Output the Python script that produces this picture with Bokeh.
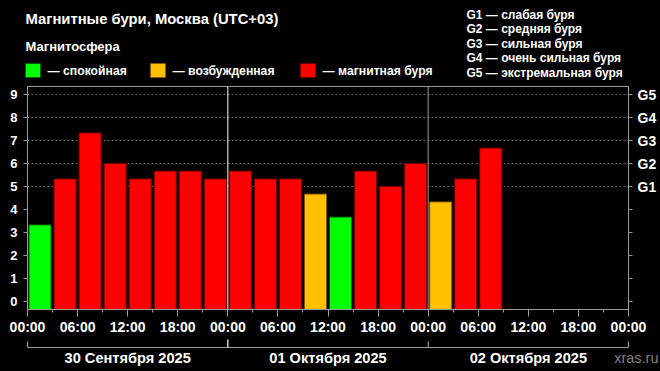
from bokeh.plotting import figure
from bokeh.layouts import column
from bokeh.models import Range1d, LinearAxis, FixedTicker, Span, ColumnDataSource
from bokeh.core.properties import value
from bokeh.embed import file_html
from bokeh.resources import INLINE

# ---- data ----
kp_values = [3.33, 5.33, 7.33, 6.0, 5.33, 5.67, 5.67, 5.33,
             5.67, 5.33, 5.33, 4.67, 3.67, 5.67, 5.0, 6.0,
             4.33, 5.33, 6.67]
step_hours = 3
day_labels = ["30 Сентября 2025", "01 Октября 2025", "02 Октября 2025"]
time_labels = ["00:00", "06:00", "12:00", "18:00"]
g_labels = ["G1", "G2", "G3", "G4", "G5"]
g_descr = ["слабая буря", "средняя буря", "сильная буря", "очень сильная буря", "экстремальная буря"]
legend_names = ["спокойная", "возбужденная", "магнитная буря"]
legend_colors = ["#00ff00", "#ffc000", "#ff0000"]
legend_edges = ["#006000", "#805800", "#700000"]
YMIN, YMAX = -0.35, 9.35
FONT = "Liberation Sans"
GRAY = "#9a9a9a"

W, H = 660, 371
HEAD_H = 85
MAIN_H = 252
FL, FR, FT, FB = 27, 628, 86, 310   # frame box in page pixels
ndays = len(day_labels)
HOURS = 24 * ndays

def level(v):
    return 0 if v < 4 else (1 if v < 5 else 2)

xs = [i * step_hours + step_hours / 2 for i in range(len(kp_values))]
lv = [level(v) for v in kp_values]
src = ColumnDataSource(dict(x=xs, top=kp_values,
                            color=[legend_colors[k] for k in lv],
                            edge=[legend_edges[k] for k in lv]))

def blank_fig(h, y0, y1):
    f = figure(width=W, height=h, output_backend="svg", toolbar_location=None,
               x_range=Range1d(0, W), y_range=Range1d(y1, y0),
               background_fill_color="black", border_fill_color="black",
               min_border=0, x_axis_location=None, y_axis_location=None,
               frame_align=False)
    f.outline_line_color = None
    f.grid.visible = False
    return f

def txt(f, x, y, t, size="12px", color="white", bold=True, align="left", **kw):
    f.text(x=x, y=y, text=t, text_font=value(FONT), text_font_size=size,
           text_color=color, text_font_style="bold" if bold else "normal",
           text_align=align, text_baseline="middle", **kw)

# ---- header ----
hd = blank_fig(HEAD_H, 0, HEAD_H)
txt(hd, [25], [18], ["Магнитные бури, Москва (UTC+03)"], "14.8px")
txt(hd, [25], [46], ["Магнитосфера"], "13px")
leg_x = [25, 150, 300]
hd.quad(left=leg_x, right=[x + 15 for x in leg_x], top=[63] * 3, bottom=[77] * 3,
        fill_color=legend_colors, line_color=legend_edges)
txt(hd, [x + 22 for x in leg_x], [70] * 3, ["— " + n for n in legend_names], "12.2px")
txt(hd, [466] * 5, [14 + i * 14.5 for i in range(5)],
    [g + " — " + d for g, d in zip(g_labels, g_descr)], "12px")

# ---- main chart ----
p = figure(width=W, height=MAIN_H, output_backend="svg", toolbar_location=None,
           x_range=Range1d(0, HOURS), y_range=Range1d(YMIN, YMAX),
           background_fill_color="black", border_fill_color="black",
           min_border_left=FL, min_border_right=W - FR, min_border_top=FT - HEAD_H,
           min_border_bottom=HEAD_H + MAIN_H - FB,
           x_axis_location=None, y_axis_location=None, frame_align=False)
p.outline_line_color = GRAY
p.xgrid.visible = False
p.ygrid.ticker = FixedTicker(ticks=[5, 6, 7, 8, 9])
p.ygrid.grid_line_color = "#606060"
p.ygrid.grid_line_dash = "2 2"

p.vbar(x="x", top="top", bottom=YMIN, width=step_hours * 0.88, source=src,
       fill_color="color", line_color="edge", line_width=1)

p.add_layout(Span(location=24, dimension="height", line_color="white", line_width=1))
for d in range(2, ndays):
    p.add_layout(Span(location=24 * d, dimension="height", line_color=GRAY, line_width=1))

def style_axis(ax, size="12px"):
    ax.axis_line_color = GRAY
    ax.major_tick_line_color = GRAY
    ax.minor_tick_line_color = GRAY
    ax.major_label_text_color = "white"
    ax.major_label_text_font = FONT
    ax.major_label_text_font_style = "bold"
    ax.major_label_text_font_size = size

la = LinearAxis(ticker=FixedTicker(ticks=list(range(10))))
style_axis(la, "13px")
la.major_tick_out = 4
la.major_tick_in = 0
la.major_label_standoff = 6
p.add_layout(la, "left")

ra = LinearAxis(ticker=FixedTicker(ticks=list(range(10))))
style_axis(ra, "14px")
ra.major_tick_out = 4
ra.major_tick_in = 0
ra.major_label_standoff = 5
ra.major_label_overrides = {i: (g_labels[i - 5] if i >= 5 else "") for i in range(10)}
p.add_layout(ra, "right")

tt = list(range(0, HOURS + 1, 6))
ba = LinearAxis(ticker=FixedTicker(ticks=tt, minor_ticks=list(range(0, HOURS + 1, 3))))
style_axis(ba, "14px")
ba.major_tick_out = 7
ba.major_tick_in = 0
ba.minor_tick_out = 3
ba.minor_tick_in = 0
ba.major_label_standoff = 2
ba.major_label_overrides = {t: time_labels[(t % 24) // 6] for t in tt}
p.add_layout(ba, "below")

# ---- footer: day bracket + credit ----
FOOT_Y0 = HEAD_H + MAIN_H
ft = blank_fig(H - FOOT_Y0, FOOT_Y0, H)
hpp = HOURS / (FR - FL)
ft.extra_x_ranges = {"hours": Range1d(-FL * hpp, HOURS + (W - FR) * hpp)}
bounds = [24 * d for d in range(ndays + 1)]
BR_Y = 347
br_xs = [[0, HOURS]] + [[b, b] for b in bounds]
br_ys = [[BR_Y, BR_Y]] + [[BR_Y - (8 if b == 24 else 6), BR_Y] for b in bounds]
br_col = [GRAY] + ["white" if b == 24 else GRAY for b in bounds]
ft.multi_line(xs=br_xs, ys=br_ys, line_color=br_col, line_width=1.2, x_range_name="hours")
txt(ft, [24 * d + 12 for d in range(ndays)], [357] * ndays, day_labels, "14.6px",
    align="center", x_range_name="hours")
txt(ft, [658], [357], ["xras.ru"], "14.5px", color="#808080", bold=False, align="right")

layout = column(hd, p, ft, spacing=0, styles={"background-color": "black"})
open("out.html", "w").write(file_html(layout, INLINE))
